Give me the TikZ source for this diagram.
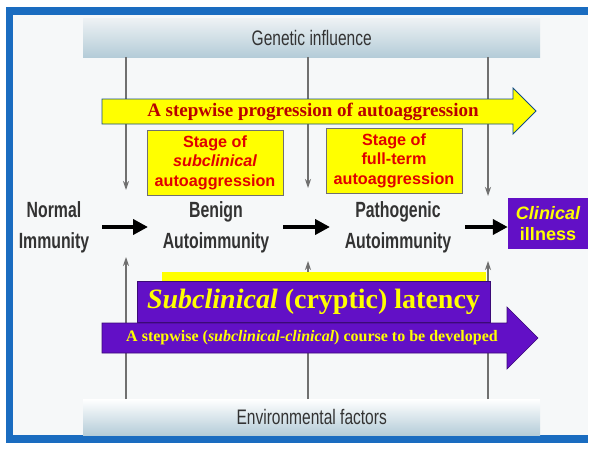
\documentclass[tikz,border=0pt]{standalone}
\usepackage{fontspec}
\setmainfont{Liberation Serif}
\newfontfamily\arialf{Liberation Sans}
\newfontfamily\condf[FakeStretch=0.74]{Liberation Sans}
\newfontfamily\condbf[FakeStretch=0.72]{Liberation Sans Bold}
\usetikzlibrary{arrows.meta}
\definecolor{framebl}{HTML}{1A6CC0}
\definecolor{bgc}{HTML}{F6F8F9}
\definecolor{bartop}{HTML}{EEF2F4}
\definecolor{barbot}{HTML}{B4CCD8}
\definecolor{purp}{HTML}{6210C6}
\definecolor{yel}{HTML}{FFFF00}
\definecolor{dred}{HTML}{B80000}
\definecolor{bred}{HTML}{E00000}
\definecolor{txtg}{HTML}{333333}
\definecolor{lineg}{HTML}{707070}
\tikzset{
  infbar/.style={draw=none, top color=bartop, bottom color=barbot, minimum width=457pt, minimum height=39pt, inner sep=0pt, font=\condf\fontsize{21}{21}\selectfont, text=txtg},
  stagebox/.style={draw=lineg, line width=0.8pt, fill=yel, minimum width=136pt, minimum height=65pt, inner sep=0pt, align=center, text=bred, font=\arialf\bfseries\fontsize{16.2}{19.5}\selectfont},
  stateT/.style={align=center, text=txtg, font=\condbf\fontsize{22}{31}\selectfont},
  infl/.style={draw=lineg, line width=1.1pt, -{Stealth[length=9pt,width=6pt]}},
  stepar/.style={line width=4pt, -{Triangle[length=15pt,width=15pt]}, black}
}
\begin{document}
\begin{tikzpicture}[x=1pt,y=-1pt]
\useasboundingbox (0,0) rectangle (597,455);
\fill[white] (0,0) rectangle (597,455);
\fill[bgc] (13,15) rectangle (588,435);
\fill[framebl] (6,7) rectangle (588,15);
\fill[framebl] (6,7) rectangle (13,443);
\fill[framebl] (6,435) rectangle (588,443);
% influence bars
\node[infbar, anchor=north west] (gen) at (83,18) {Genetic influence};
\node[infbar, anchor=north west, top color=white, minimum height=36pt] (env) at (83,399) {Environmental factors};
% coordinates for influence lines
\coordinate (g1) at (126,57); \coordinate (g2) at (308,57); \coordinate (g3) at (488,57);
\coordinate (d1) at (126,190); \coordinate (d2) at (308,188); \coordinate (d3) at (488,196);
\coordinate (e1) at (126,399); \coordinate (e2) at (308,399); \coordinate (e3) at (488,399);
\coordinate (u1) at (126,257); \coordinate (u2) at (308,261); \coordinate (u3) at (488,261);
\draw[infl] (g1) -- (d1);
\draw[infl] (g2) -- (d2);
\draw[infl] (g3) -- (d3);
\draw[infl] (e1) -- (u1);
\draw[infl] (e2) -- (u2);
\draw[infl] (e3) -- (u3);
% upper yellow arrow
\draw[fill=yel, draw=framebl!70!black, line width=0.8pt] (102,99) -- (513,99) -- (513,88) -- (536,111) -- (513,134) -- (513,124) -- (102,124) -- cycle;
\node[text=dred, font=\bfseries\fontsize{19}{19}\selectfont] (prog) at (313,112) {A stepwise progression of autoaggression};
% stage boxes
\node[stagebox] (st1) at (215,162.5) {Stage of\\\itshape subclinical\\autoaggression};
\node[stagebox] (st2) at (394,160.5) {Stage of\\full-term\\autoaggression};
% states
\node[stateT] (norm) at (54,227) {Normal\\Immunity};
\node[stateT] (ben) at (216,227) {Benign\\Autoimmunity};
\node[stateT] (path) at (398,227) {Pathogenic\\Autoimmunity};
\node[fill=purp, minimum width=80pt, minimum height=51pt, inner sep=0pt, align=center, text=yel, font=\arialf\bfseries\fontsize{18}{21}\selectfont] (clin) at (548,223.5) {\itshape Clinical\\illness};
\coordinate (a1) at (102,227);
\coordinate (a2) at (283,227);
\coordinate (a3) at (465,227);
\draw[stepar] (a1) -- (148,227);
\draw[stepar] (a2) -- (330,227);
\draw[stepar] (a3) -- (a3 -| clin.west);
% latency
\fill[yel] (162,272) rectangle (486,282);
\node[fill=purp, draw=purp!60!black, line width=0.6pt, minimum width=353pt, minimum height=41pt, inner sep=0pt, text=yel, font=\bfseries\fontsize{28}{28}\selectfont] (lat) at (313.5,301.5) {\itshape Subclinical\upshape{} (cryptic) latency};
% purple arrow
\draw[fill=purp, draw=purp!60!black, line width=0.6pt] (102,323) -- (507,323) -- (507,307) -- (538,338) -- (507,369) -- (507,353) -- (102,353) -- cycle;
\node[text=yel, font=\bfseries\fontsize{16}{16}\selectfont] (course) at (312,338) {A stepwise (\textit{subclinical-clinical}) course to be developed};
\end{tikzpicture}
\end{document}
